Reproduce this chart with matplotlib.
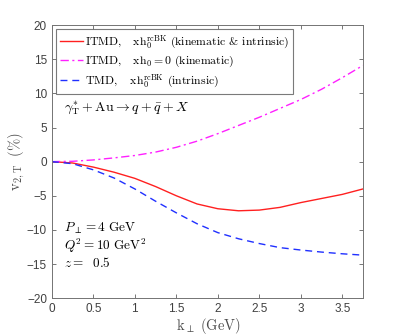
import numpy as np
import matplotlib
matplotlib.use('Agg')
import matplotlib.pyplot as plt

plt.rcParams['mathtext.fontset'] = 'cm'
plt.rcParams['font.family'] = ['Liberation Sans', 'DejaVu Sans']

# data
k_perp = [0, 0.25, 0.5, 0.75, 1.0, 1.25, 1.5, 1.75, 2.0, 2.25, 2.5, 2.75, 3.0, 3.25, 3.5, 3.75]
itmd_full = [0, -0.2, -0.8, -1.55, -2.45, -3.65, -5.0, -6.2, -6.9, -7.2, -7.1, -6.7, -6.0, -5.4, -4.8, -4.0]
itmd_kin = [0, 0.05, 0.25, 0.55, 0.9, 1.4, 2.1, 3.0, 4.1, 5.3, 6.5, 7.8, 9.1, 10.6, 12.3, 14.1]
tmd_intr = [0, -0.3, -1.2, -2.4, -4.0, -5.8, -7.5, -9.1, -10.4, -11.3, -12.0, -12.6, -12.95, -13.25, -13.5, -13.7]

labels = [r'ITMD,$\quad\,\mathrm{xh}_0^{\mathrm{rcBK}}$ (kinematic & intrinsic)',
          r'ITMD,$\quad\,\mathrm{xh}_0 = 0$ (kinematic)',
          r'TMD,$\quad\;\mathrm{xh}_0^{\mathrm{rcBK}}$ (intrinsic)']

fig = plt.figure(figsize=(4.02, 3.35), dpi=100)
ax = fig.add_axes([0.129, 0.110, 0.774, 0.815])

ax.plot(k_perp, itmd_full, color='#ff2020', lw=1.0, label=labels[0])
ax.plot(k_perp, itmd_kin, color='#ff20ff', lw=1.0, ls=(0, (6, 2.5, 1.5, 2.5)), label=labels[1])
ax.plot(k_perp, tmd_intr, color='#2030ff', lw=1.0, ls=(0, (5, 3.5)), label=labels[2])

ax.set_xlim(0, 3.75)
ax.set_ylim(-20, 20)
ax.set_xticks(np.arange(0, 3.75, 0.5))
ax.set_xticklabels(['0', '0.5', '1', '1.5', '2', '2.5', '3', '3.5'])
ax.set_yticks(np.arange(-20, 21, 5))
ax.tick_params(direction='in', top=True, right=True, labelsize=8.5, colors='0.25',
               length=3, width=0.5)
for s in ax.spines.values():
    s.set_color('0.45')
    s.set_linewidth(0.7)

# x label pinned by its left edge, as in the reference
xl = ax.set_xlabel(r'$\mathrm{k}_\perp\ \mathrm{(GeV)}$', fontsize=10.5, color='0.3')
xl.set_horizontalalignment('left')
ax.xaxis.set_label_coords(0.40, -0.065)
ax.set_ylabel(r'$\mathrm{v}_{2,\mathrm{T}}\ \ (\%)$', fontsize=10.5, labelpad=0, color='0.3')

leg = ax.legend(loc='upper left', handlelength=1.9, handletextpad=0.2,
                borderpad=0.35, labelspacing=0.3, borderaxespad=0.35, fancybox=False,
                prop={'family': 'cmr10', 'size': 8.5})
leg.get_frame().set_edgecolor('0.35')
leg.get_frame().set_linewidth(0.8)

ax.text(0.15, 7.3, r'$\gamma_{\mathrm{T}}^{*} + \mathrm{Au} \rightarrow q + \bar{q} + X$', fontsize=10)
ax.text(0.15, -10.3, r'$P_\perp = 4\ \mathrm{GeV}$', fontsize=9.5)
ax.text(0.15, -13.0, r'$Q^2 = 10\ \mathrm{GeV}^2$', fontsize=9.5)
ax.text(0.15, -15.5, r'$z =\ \ 0.5$', fontsize=9.5)

fig.savefig('out.png', dpi=100)
